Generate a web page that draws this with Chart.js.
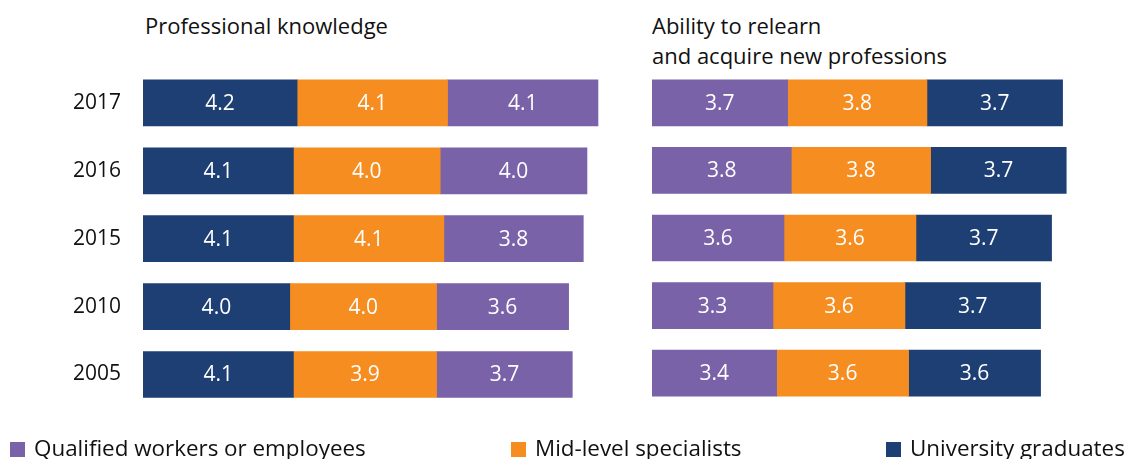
<!DOCTYPE html>
<html>
<head>
<meta charset="utf-8">
<script src="https://cdn.jsdelivr.net/npm/chart.js@4/dist/chart.umd.min.js"></script>
<style>
  body { margin: 0; background: #fff; font-family: "Open Sans", sans-serif; }
  #wrap { position: relative; width: 1126px; height: 459px; overflow: hidden; }
  .box { position: absolute; }
  .title { position: absolute; font-size: 22px; line-height: 30px; color: #111; }
  .legend { position: absolute; top: 432px; font-size: 22.4px; color: #111; white-space: nowrap; }
  .legend span { display: inline-block; width: 15px; height: 15px; margin-right: 9px; vertical-align: -1px; }
</style>
</head>
<body>
<div id="wrap">
  <div class="title" style="left:145px; top:10px;">Professional knowledge</div>
  <div class="title" style="left:652px; top:10px;">Ability to relearn<br>and acquire new professions</div>
  <div class="box" style="left:0; top:0; width:620px; height:435px;"><canvas id="left"></canvas></div>
  <div class="box" style="left:618px; top:0; width:508px; height:420px;"><canvas id="right"></canvas></div>
  <div class="legend" style="left:10px;"><span style="background:#7a62a9"></span>Qualified workers or employees</div>
  <div class="legend" style="left:511px;"><span style="background:#f58d21"></span>Mid-level specialists</div>
  <div class="legend" style="left:886px;"><span style="background:#1e3f73"></span>University graduates</div>
</div>
<script>
const years = ["2017", "2016", "2015", "2010", "2005"];

// Professional knowledge
const knowUniv = [4.2, 4.1, 4.1, 4.0, 4.1];
const knowMid = [4.1, 4.0, 4.1, 4.0, 3.9];
const knowQual = [4.1, 4.0, 3.8, 3.6, 3.7];

// Ability to relearn and acquire new professions
const relearnQual = [3.7, 3.8, 3.6, 3.3, 3.4];
const relearnMid = [3.8, 3.8, 3.6, 3.6, 3.6];
const relearnUniv = [3.7, 3.7, 3.7, 3.7, 3.6];

const colors = { qual: "#7a62a9", mid: "#f58d21", univ: "#1e3f73" };

// draws the numbers in the middle of each bar
const barLabels = {
  id: "barLabels",
  afterDatasetsDraw(chart) {
    const ctx = chart.ctx;
    ctx.save();
    ctx.fillStyle = "#fff";
    ctx.font = "21px 'Open Sans'";
    ctx.textAlign = "center";
    ctx.textBaseline = "middle";
    chart.data.datasets.forEach((ds, i) => {
      chart.getDatasetMeta(i).data.forEach((bar, j) => {
        const cx = (bar.x + bar.base) / 2;
        ctx.fillText(ds.data[j].toFixed(1), cx, bar.y + 1);
      });
    });
    ctx.restore();
  },
};

function makeChart(id, datasets, showYears, max, axisWidth) {
  return new Chart(document.getElementById(id), {
    type: "bar",
    data: {
      labels: years,
      datasets: datasets.map((d) => ({
        label: d.label,
        data: d.data,
        backgroundColor: d.color,
        borderWidth: 0,
        barThickness: 46,
      })),
    },
    options: {
      indexAxis: "y",
      responsive: true,
      maintainAspectRatio: false,
      animation: false,
      layout: { padding: { top: 69, bottom: 13, left: 0, right: 0 } },
      plugins: { legend: { display: false }, tooltip: { enabled: false } },
      scales: {
        x: { stacked: true, min: 0, max: max, display: false },
        y: {
          stacked: true,
          display: showYears,
          grid: { display: false },
          border: { display: false },
          ticks: { color: "#111", font: { size: 21, family: "'Open Sans'" }, padding: 14 },
          afterFit: (a) => { a.width = axisWidth; },
        },
      },
    },
    plugins: [barLabels],
  });
}

makeChart("left", [
  { label: "University graduates", data: knowUniv, color: colors.univ },
  { label: "Mid-level specialists", data: knowMid, color: colors.mid },
  { label: "Qualified workers or employees", data: knowQual, color: colors.qual },
], true, 13, 143);

makeChart("right", [
  { label: "Qualified workers or employees", data: relearnQual, color: colors.qual },
  { label: "Mid-level specialists", data: relearnMid, color: colors.mid },
  { label: "University graduates", data: relearnUniv, color: colors.univ },
], false, 12.93, 34);
</script>
</body>
</html>
